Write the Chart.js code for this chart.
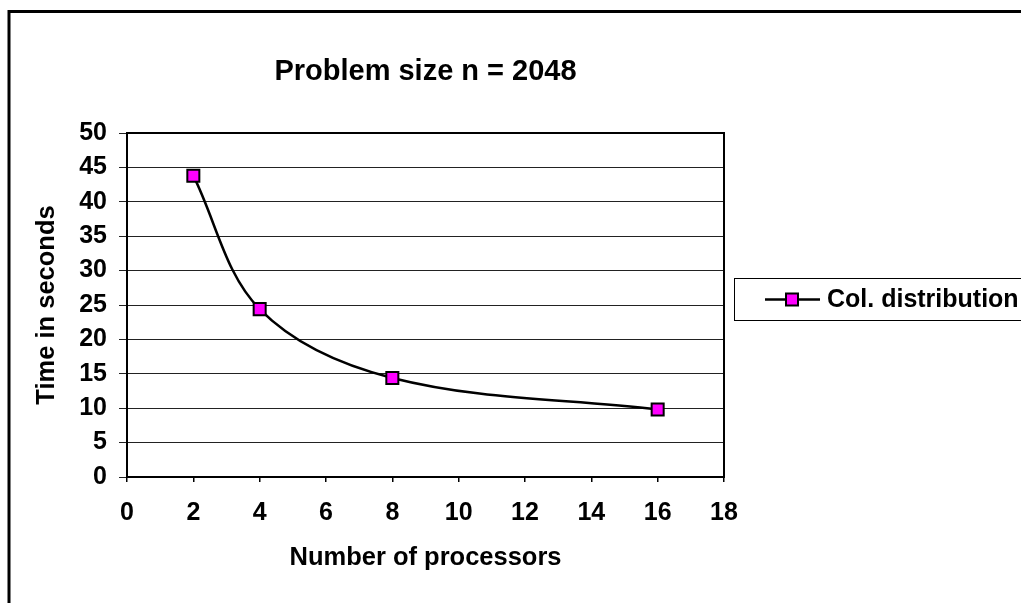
<!DOCTYPE html>
<html lang="en">
<head>
  <meta charset="UTF-8">
  <title>Problem size n = 2048</title>
  <style>
    html, body { margin: 0; padding: 0; background: #fff; }
    canvas { display: block; }
  </style>
</head>
<body>
  <canvas id="myChart" width="1021" height="603"></canvas>

  <script src="https://cdn.jsdelivr.net/npm/chart.js"></script>
  <script>
    // data
    const processors = [2, 4, 8, 16];
    const seconds = [43.8, 24.4, 14.4, 9.8];
    const seriesName = 'Col. distribution';

    const FONT = '"Liberation Sans", Arial, Helvetica, sans-serif';

    // white page with the thick frame round the whole chart
    const framePlugin = {
      id: 'frame',
      beforeDraw(chart) {
        const c = chart.ctx;
        c.save();
        c.fillStyle = '#fff';
        c.fillRect(0, 0, chart.width, chart.height);
        c.strokeStyle = '#000';
        c.lineWidth = 3;
        c.strokeRect(9, 11.5, chart.width + 20, chart.height + 20);
        c.restore();
      },
      beforeDatasetsDraw(chart) {
        const a = chart.chartArea;
        const c = chart.ctx;
        c.save();
        c.strokeStyle = '#000';
        c.lineWidth = 2;
        c.strokeRect(a.left, a.top, a.right - a.left, a.bottom - a.top);
        c.restore();
      }
    };

    // boxed legend to the right of the plot
    const legendBox = {
      id: 'legendBox',
      afterDraw(chart) {
        const c = chart.ctx;
        const ds = chart.data.datasets[0];
        const x0 = 734.5, y0 = 278.5, h = 42;
        const cy = y0 + h / 2;
        c.save();
        c.strokeStyle = '#000';
        c.lineWidth = 1;
        c.strokeRect(x0, y0, 400, h);
        c.lineWidth = 2.5;
        c.beginPath();
        c.moveTo(765, cy);
        c.lineTo(820, cy);
        c.stroke();
        c.fillStyle = ds.pointBackgroundColor;
        c.lineWidth = 2;
        c.fillRect(786, cy - 6, 12, 12);
        c.strokeRect(786, cy - 6, 12, 12);
        c.fillStyle = '#000';
        c.font = 'bold 25px ' + FONT;
        c.textBaseline = 'middle';
        c.fillText(ds.label, 827, cy + 1);
        c.restore();
      }
    };

    const ctx = document.getElementById('myChart');

    new Chart(ctx, {
      type: 'line',
      data: {
        datasets: [{
          label: seriesName,
          data: processors.map((p, i) => ({ x: p, y: seconds[i] })),
          borderColor: '#000',
          borderWidth: 2.5,
          tension: 0.35,
          pointStyle: 'rect',
          pointRadius: 8.5,
          pointBorderWidth: 2,
          pointBackgroundColor: '#ff00ff',
          pointBorderColor: '#000'
        }]
      },
      options: {
        responsive: false,
        animation: false,
        layout: { padding: { left: 0, right: 297, top: 0, bottom: 0 } },
        plugins: {
          legend: { display: false },
          tooltip: { enabled: false },
          title: {
            display: true,
            text: 'Problem size n = 2048',
            fullSize: false,
            color: '#000',
            font: { family: FONT, size: 29, weight: 'bold' },
            padding: { top: 54.6, bottom: 43.6 }
          }
        },
        scales: {
          x: {
            type: 'linear',
            min: 0,
            max: 18,
            ticks: {
              stepSize: 2,
              color: '#000',
              padding: 16,
              font: { family: FONT, size: 25, weight: 'bold' }
            },
            grid: { drawOnChartArea: false, drawTicks: true, tickLength: 5, color: '#000', lineWidth: 1.5 },
            border: { color: '#000', width: 2 },
            title: {
              display: true,
              text: 'Number of processors',
              color: '#000',
              font: { family: FONT, size: 25.5, weight: 'bold' },
              padding: { top: 10, bottom: 29.7 }
            },
            afterFit(scale) { scale.height = 126; }
          },
          y: {
            min: 0,
            max: 50,
            ticks: {
              stepSize: 5,
              color: '#000',
              padding: 12,
              font: { family: FONT, size: 25, weight: 'bold' }
            },
            grid: { color: '#222', lineWidth: 1, tickLength: 8 },
            border: { color: '#000', width: 2 },
            title: {
              display: true,
              text: 'Time in seconds',
              color: '#000',
              font: { family: FONT, size: 25.5, weight: 'bold' },
              padding: { top: 31.7, bottom: 10 }
            },
            afterFit(scale) { scale.width = 127; }
          }
        }
      },
      plugins: [framePlugin, legendBox]
    });
  </script>
</body>
</html>
